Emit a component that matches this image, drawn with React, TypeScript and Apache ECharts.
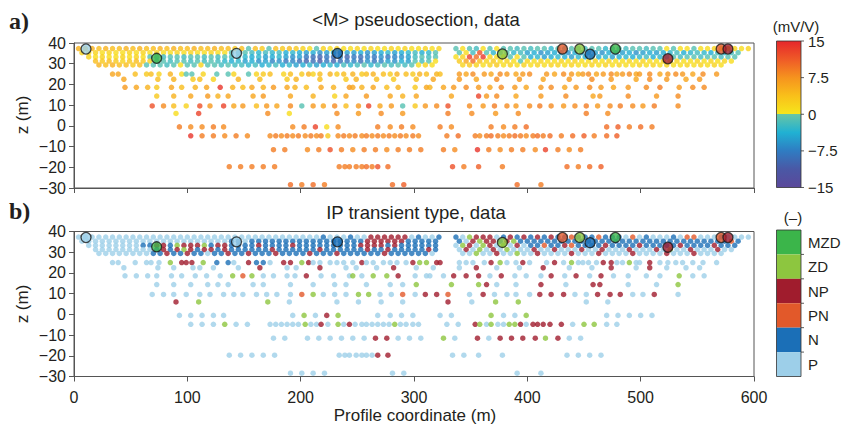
import React, { useEffect, useRef } from 'react';
import * as echarts from 'echarts';

// ---------- axis ticks ----------
const X_TICKS = [0, 100, 200, 300, 400, 500, 600];
const Z_TICKS = [-30, -20, -10, 0, 10, 20, 30, 40];

// ---------- legend categories (top to bottom) ----------
const TYPE_LABELS = ['MZD', 'ZD', 'NP', 'PN', 'N', 'P'];
const TYPE_CODES = ['M', 'Z', 'R', 'O', 'N', 'P'];
const TYPE_COLORS = ['#3bb54a', '#8dc63f', '#a01c2d', '#e2592a', '#1b6fb7', '#9dcfe9'];

// ---------- colour scale (mV/V) ----------
const CBAR_TICKS = [15, 7.5, 0, -7.5, -15];
const POS_STOPS = [0, 3.75, 7.5, 11.25, 15];
const POS_COLORS = ['#f6e61b', '#f9c01a', '#f6931e', '#ef5a27', '#e6262b'];
const NEG_STOPS = [-15, -11.25, -7.5, -3.75, 0];
const NEG_COLORS = ['#5b489b', '#4a58a5', '#2f7cc2', '#20b1d3', '#68c5a5'];

// ---------- pseudosection rows: depth, x positions, <M> values, transient type ----------
const zA = 37.3;
const xA = [4,10,16,22,28,34,40,46,52,58,64,70,76,82,88,94,100,106,112,118,124,130,136,142,148,154,160,166,172,178,184,190,196,202,208,214,220,226,232,238,244,250,256,262,268,274,280,286,292,298,304,310,316,322,
  337,343,349,355,361,367,373,379,385,391,397,403,409,415,421,427,433,439,445,451,457,463,469,475,481,487,493,499,505,511,517,523,529,535,541,547,553,559,565,571,577,583,589,595];
const mA = [5,4,5,4,5,4,4,5,4,5, 4,4,5,4,5,4,4,5,4,4, 5,4,4,3,4,-1,4,3,-1,4, 3,4,3,
  2,1,-1,2,1,2,1,1,2,1, 2,1,1,2,1,2,1,1,2,1, 2,
  -1,1,-1,-2,1,-1,1,-1,-1,-2,
  -1,-2,-1,-1,-3,-1,-2,-1,-1,-2, -1,-1,-3,-1,-1,-2,-1,-1,-2,-1,
  -1,1,-1,1,1,-1,1,
  1,2,1,2,2,1,2];
const tA = 'PPPPPPPPPP PPPPPPPPPP PPPPPPPPPP PPP  PPPNPPPNPP RRRRRRPNPP N  NPZRRRPNRN  RNRNRNNONN NONNNPOPNP  PPNPOOP  PPNPPPP';

const zB = 35.3;
const xB = [7,13,19,25,31,37,43,49,55,61,67,73,79,85,91,97,103,109,115,121,127,133,139,145,151,157,163,169,175,181,187,193,199,205,211,217,223,229,235,241,247,253,259,265,271,277,283,289,295,301,307,313,319,
  340,346,352,358,364,370,376,382,388,394,400,406,412,418,424,430,436,442,448,454,460,466,472,478,484,490,496,502,508,514,520,526,532,538,544,550,556,562,568,574,580,586];
const mB = [2,1,2,1,2,1,1,2,1,2, 1,2,1,1,2,1,2,1,1,2, 1,1,
  -1,-2,-1,-2,-3,-2,-3,-2,-4,-3, -4,
  -5,-4,-6,-5,-4,-6,-5,-5,-4,-6, -5,-4,-3,-5,-4,-3,-2,-4,-3,-1,
  -1,1,-2,12,-1,-3,-2,-1,-3,-2,
  -5,-4,-6,-5,-4,-5,-6,-4,-5,-3, -5,-6,-4,-5,-5,-4,-6,-5,-4,-5, -4,
  -3,-2,-4,-3,-2,-3,-4,-2,-3,-2, -1];
const tB = 'PPPPPPPPPP PPPPPPPPPP PP  NNPNNNNNNN N  NNNNNNNNNR RRRRRNNNNN  NPRZRRNRZN  NNNNNNNNNN NNNNNNNNNN N  NNNNNNNNNO N';

const zC = 33.3;
const xC = [13,19,25,31,37,43,49,55,61,67,73,79,85,91,97,103,109,115,121,127,133,139,145,151,157,163,169,175,181,187,193,199,205,211,217,223,229,235,241,247,253,259,265,271,277,283,289,295,301,307,313,319,
  337,343,349,355,361,367,373,379,385,391,397,403,409,415,421,427,433,439,445,451,457,463,469,475,481,487,493,499,505,511,517,523,529,535,541,547,553,559,565,571,577,583];
const mC = [2,1,2,1,1,2,1,2,1,-1,
  -1,-2,-1,-1,-2,-1,-1,-2,-1,-2, -1,-2,-2,
  -3,-4,-3,-5,-4,-3,-5,-6,-5,
  -8,-9,-10,-8,-9,-7,-10,-8,-9,-7, -8,-6,-8,-7,-6,-5,
  -2,-1,-2,-1,
  1,2,13,10,14,2,1,
  1,-1,1,-1,
  -4,-3,-5,-4,-3,-4,-5,-3,-4,-2, -4,-3,-5,-4,-3,-4,-3,-2,-4,-3,
  -2,-1,-2,-1,-1,-2,-1,-1,-2,-1, -1];
const tC = 'PPPPPPPPNN  RRNZRRRZNR RNN  NNRNNNNRN  NNNNNNNNRR RRNRNN  NNNN  PZRPZRP  ZPRP  NNONNRONNN NRNNNNRNNN  NNRNNNNRNN N';

const zD = 31.3;
const xD = [19,25,31,37,43,49,55,61,67,73,79,85,91,97,103,109,115,121,127,133,139,145,151,157,163,169,175,181,187,193,199,205,211,217,223,229,235,241,247,253,259,265,271,277,283,289,295,301,307,313,319,
  340,346,352,358,364,370,376,382,388,394,400,406,412,418,424,430,436,442,448,454,460,466,472,478,484,490,496,502,508,514,520,526,532,538,544,550,556,562,568,574,580];
const mD = [4,3,4,3,2,3,4,3,2,
  -1,-1,-2,-1,-1,-2,-1,-2,-1,-2, -3,
  -4,-3,-5,-4,-6,-5,-7,-6,-8,-7, -9,
  -10,-9,-11,-8,-10,-9,-8,-7,-9,-6, -8,-7,-5,-6,-4,-5,
  -1,-2,-1,1,
  3,6,10,4,2,3,1,2,1,-1,
  2,1,2,1,1,2,1,2,1,1, 2,1,2,1,1,2,1,2,1,1, 2,1,2,1,1,2,1,2,1,2, 1];
const tD = 'PPPPPPPPP  NRNRZRNRRN R  NNNNNNRNNN N  NNRNNNNNNR NNRNNN  NNRN  PRPZPRPZPP  PRPPRPPPRP PRPPPRPPPR PZPPRPPPRP P';

const zE = 29.4;
const xE = [22,28,34,40,46,52,58,64,70,76,82,88,94,100,106,112,118,124,130,136,142,148,154,160,166,172,178,184,190,196,202,208,214,220,226,232,238,244,250,256,262,268,274,280,286,292,298,304,310,316,
  343,349,355,361,367,373,379,385,391,397,403,409,415,421,427,433,439,445,451,457,463,469,475,481,487,493,499,505,511,517,523,529,535,541,547,553,559,565,571];
const mE = [5,4,5,4,4,3,4,-1,
  -1,-1,-2,-1,1,-1,-1,2,-1,-1, -2,-1,-2,
  -2,-3,-2,-4,-3,-2,-4,-3,-5,-4, -3,-5,-4,-3,-4,-2,-3,-2,-1,-3, -2,-1,-2,-1,-2,-1,
  1,2,1,
  2,3,2,1,2,3,1,2,1,
  2,1,2,1,2,2,1,2,1,1, 2,1,2,1,2,1,1,2,1,2, 1,2,1,1,2,1,2,1,2,1];
const tE = 'PPPPPPPP  NNRNNRNNPN NRN  NRNNNRNNNN RNNNRNNNNN NRNNNN  NNP  PPZPPRPPZ  PPRPPPPRPP PRPPPPRPPP PRPPPRPPPP';

const z25 = 25.0;
const x25 = [34,39,54,64,68,75,85,95,99,104,114,126,136,141,154,161,167,173,185,191,201,207,211,217,226,232,238,246,254,258,264,273,279,285,293,299,305,311,320,323,
  340,346,352,362,368,376,382,390,396,402,417,424,432,439,445,449,454,461,467,474,479,484,490,496,499,508,517,524,531,537,546,555,567];
const m25 = [6,6,4,3,4,2,5,1,-1,-1, 2,-1,-1,2,-1,2,3,4,2,4, 3,5,2,4,5,3,4,5,3,4, 5,4,3,5,4,3,5,4,5,4,
  7,6,8,7,6,8,7,6,7,8, 7,6,8,7,5,7,8,6,7,8, 6,7,8,6,7,8,6,7,8,7, 6,8,7];
const t25 = 'PPPPPPZRRR ZNNPRNNPRR ZRPPPPPPRP PPPPPRZZRR PPPPRZPPRP PRPZPPPPRR PPZPPRPPPP PPP';

const z22 = 22.5;
const x22 = [44,74,88,105,111,123,145,164,188,196,217,240,249,267,282,302,317,340,355,373,393,414,437,457,474,496,508,523,540,552];
const m22 = [6,4,5,3,4,2,5,4,3,5,4,3,5,4,3,4, 6,7,6,8,7,6,7,8,7,6,8,7,6,7];
const t22 = 'PPPPPPPRPPRPPPRP PPRPPRPPRPRPPP';

const z18 = 18.6;
const x18 = [45,55,65,73,86,95,107,117,129,140,149,157,167,176,188,195,205,218,229,243,246,254,264,276,286,301,311,314,326,335,346,357,367,377,389,399,412,421,433,443,455,465,476,489,505,517,534,546,556];
const m18 = [7,6,5,3,6,4,5,6,14,5, 4,6,5,7,6,5,4,6,5,7, 6,5,6,4,5,3,6,5,6,7, 8,7,6,8,7,6,7,8,6,7, 8,7,6,7,8,9,7,8,8];
const t18 = 'PPPPPPPPPZ OZPPPPRPPP ZPZZRPPPPR RRPRPPPRPR PRPPPPZPP';

const z14 = 14.4;
const x14 = [73,88,103,118,127,136,158,167,191,211,230,240,258,279,290,302,333,357,364,373,390,412,434,458,464,489,514,533];
const m14 = [3,5,6,7,5,6,6,7,6,5,2,6,7,6,5,6, 6,13,7,8,6,7,8,6,7,8,7,8];
const t14 = 'PPPPPPPPPPPPPPPZ ZZRPPRPRRPPZ';

const z10 = 9.6;
const x10 = [69,79,88,99,111,120,132,141,149,161,170,179,191,201,211,220,230,240,251,260,270,280,290,301,310,
  320,330,349,361,371,382,390,402,411,421,432,442,452,462,473,482,493,502,512,533];
const m10 = [12,8,4,2,12,7,13,6,7,4, 7,6,8,-1,7,6,8,4,7,13, 6,7,-1,3,7,
  8,12,8,7,9,8,7,8,9,8, 7,8,9,7,8,9,8,7,9,8];
const t10 = 'PPPPPPPPPPPPPOZPPPZZPPOPR ROPRPPPPRRRPPRRRPPRP';

const z6 = 6.0;
const x6 = [90,110,171,190,232,251,271,290,330,351,372,392,452,471];
const m6 = [1,13,8,1,8,7,8,7, 9,8,7,8,9,8];
const t6 = 'RZZPPPPP RPZZPP';

const z0 = -0.5;
const x0 = [93,103,113,123,132,193,203,213,223,233,268,279,289,299,323,333,368,379,389,399,470,480,490,500,510];
const m0 = [9,8,8,9,8, 8,9,13,1,8, 9,8,9,8, 9,8,9,8,9,10, 10,11,9,10,9];
const t0 = 'PPPPPPZPRZPPPP PPZPPZPPPPP';

const z5 = -4.8;
const x5 = [103,113,123,133,143,153,
  173,178,183,188,193,198,204,209,214,218,224,233,238,243,248,254,258,263,268,273,278,283,288,293,299,304,
  329,339,354,358,364,368,374,379,384,389,394,399,405,409,414,420,430,440,450,459,470,479];
const m5 = [14,9,9,8,9,8,
  8,9,8,9,8,9,8,9,8,9, 3,8,9,8,9,8,9,8,9,8, 9,8,9,8,9,8,
  9,10,9,8,9,10,9,8,9,10, 9,8,9,10,9,10,9,10,11,9, 10,11];
const t5 = 'PPPZPP PPPPPPZPPRPZPRPPPPPPPZPPPP PPRZPZPPZZRPRRRRRPZZPP';

const z11 = -11.5;
const x11 = [176,186,206,216,226,236,246,256,266,276,286,296,306,326,336,356,366,376,386,396,407,416,427,437,447];
const m11 = [9,9,8,9,12,9,8,9,9,8,9,9,9, 9,8,14,9,8,9,9,8,13,9,8,9];
const t11 = 'PPPPPPPPRRPPP ZPRPRRRRZRPP';

const z20 = -19.7;
const x20 = [137,147,157,167,177,234,239,243,249,254,258,263,268,277,334,344,357,378,435,445,455,465];
const m20 = [9,9,9,9,9, 9,9,9,9,9,10,9,12,10, 12,9,11,9,10,9,10,11];
const t20 = 'PPPPP PPPPPPPRR PPPPPPPP';

const z28 = -28.4;
const x28 = [191,201,211,221,281,291,391,412];
const m28 = [10,9,10,9,10,11,10,9];
const t28 = 'PPPPPPPP';

// ---------- highlighted soundings (large outlined circles) ----------
const hX = [10.6, 72.9, 143.4, 232.5, 378, 431, 446.2, 455.3, 477.7, 524, 571, 577];
const hZ = [37.1, 32.6, 35.0, 35.0, 34.7, 37.1, 37.1, 34.6, 37.1, 32.4, 37.1, 37.1];
const hT = 'PMPNZOZNMROR';

const FONT = '"Liberation Sans", Arial, Helvetica, sans-serif';
const TXT = '#231f20';

function hexToRgb(h: string) {
  const n = parseInt(h.slice(1), 16);
  return [(n >> 16) & 255, (n >> 8) & 255, n & 255];
}
function mix(a: string, b: string, t: number) {
  const A = hexToRgb(a), B = hexToRgb(b);
  const c = A.map((v, i) => Math.round(v + (B[i] - v) * t));
  return `rgb(${c[0]},${c[1]},${c[2]})`;
}
function ramp(v: number, stops: number[], colors: string[]) {
  if (v <= stops[0]) return colors[0];
  for (let i = 1; i < stops.length; i++) {
    if (v <= stops[i]) {
      const t = (v - stops[i - 1]) / (stops[i] - stops[i - 1]);
      return mix(colors[i - 1], colors[i], t);
    }
  }
  return colors[colors.length - 1];
}
function mColor(v: number) {
  return v >= 0 ? ramp(v, POS_STOPS, POS_COLORS) : ramp(v, NEG_STOPS, NEG_COLORS);
}
function typeColor(code: string) {
  const i = TYPE_CODES.indexOf(code);
  return TYPE_COLORS[i < 0 ? 5 : i];
}
const clean = (s: string) => s.replace(/\s+/g, '');

const ROWS = [
  { z: zA, x: xA, m: mA, t: tA }, { z: zB, x: xB, m: mB, t: tB }, { z: zC, x: xC, m: mC, t: tC },
  { z: zD, x: xD, m: mD, t: tD }, { z: zE, x: xE, m: mE, t: tE }, { z: z25, x: x25, m: m25, t: t25 },
  { z: z22, x: x22, m: m22, t: t22 }, { z: z18, x: x18, m: m18, t: t18 }, { z: z14, x: x14, m: m14, t: t14 },
  { z: z10, x: x10, m: m10, t: t10 }, { z: z6, x: x6, m: m6, t: t6 }, { z: z0, x: x0, m: m0, t: t0 },
  { z: z5, x: x5, m: m5, t: t5 }, { z: z11, x: x11, m: m11, t: t11 }, { z: z20, x: x20, m: m20, t: t20 },
  { z: z28, x: x28, m: m28, t: t28 },
];

export default function App() {
  const ref = useRef<HTMLDivElement>(null);
  useEffect(() => {
    if (!ref.current) return;
    const chart = echarts.init(ref.current, undefined, { renderer: 'svg' });

    const dataM: any[] = [];
    const dataT: any[] = [];
    ROWS.forEach((r) => {
      const tt = clean(r.t);
      r.x.forEach((x, i) => {
        const m = r.m[i] ?? 0;
        const t = tt[i] ?? 'P';
        dataM.push({ value: [x, r.z, m], itemStyle: { color: mColor(m) } });
        dataT.push({ value: [x, r.z], itemStyle: { color: typeColor(t) } });
      });
    });
    const hiData = hX.map((x, i) => ({ value: [x, hZ[i]], itemStyle: { color: typeColor(hT[i]) } }));

    const grids = [
      { left: 74, top: 43, width: 680, height: 145 },
      { left: 74, top: 231.5, width: 680, height: 145 },
    ];
    const axisLine = { show: true, onZero: false, lineStyle: { color: '#555', width: 1 } };
    const axisTick = { show: true, inside: false, length: 5, lineStyle: { color: '#555', width: 1 } };
    const xAxis = [0, 1].map((g) => ({
      type: 'value', gridIndex: g, min: X_TICKS[0], max: X_TICKS[X_TICKS.length - 1], interval: 100,
      axisLine, axisTick, splitLine: { show: false },
      axisLabel: { show: g === 1, fontSize: 16, color: TXT, fontFamily: FONT, margin: 13 },
    }));
    const yAxis = [0, 1].map((g) => ({
      type: 'value', gridIndex: g, min: Z_TICKS[0], max: Z_TICKS[Z_TICKS.length - 1], interval: 10,
      axisLine, axisTick, splitLine: { show: false },
      axisLabel: {
        fontSize: 16, color: TXT, fontFamily: FONT, margin: 8,
        formatter: (v: number) => String(v).replace('-', '\u2212'),
      },
    }));

    const pointSize = 5.5;
    const series: any[] = [
      { type: 'scatter', xAxisIndex: 0, yAxisIndex: 0, symbolSize: pointSize, data: dataM, z: 2 },
      { type: 'scatter', xAxisIndex: 0, yAxisIndex: 0, symbolSize: 10, data: hiData, z: 3,
        itemStyle: { borderColor: '#1a1a1a', borderWidth: 1.3 } },
      { type: 'scatter', xAxisIndex: 1, yAxisIndex: 1, symbolSize: pointSize, data: dataT, z: 2 },
      { type: 'scatter', xAxisIndex: 1, yAxisIndex: 1, symbolSize: 10, data: hiData, z: 3,
        itemStyle: { borderColor: '#1a1a1a', borderWidth: 1.3 } },
    ];

    // colour bar
    const cbX = 776.5, cbW = 24.5;
    const cbTop = 41, cbH = 146.5;
    const catTop = 230, catH = 146.5;
    const grad = new echarts.graphic.LinearGradient(0, 0, 0, 1, [
      { offset: 0, color: POS_COLORS[4] }, { offset: 0.125, color: POS_COLORS[3] },
      { offset: 0.25, color: POS_COLORS[2] }, { offset: 0.375, color: POS_COLORS[1] },
      { offset: 0.5, color: POS_COLORS[0] }, { offset: 0.5, color: NEG_COLORS[4] },
      { offset: 0.625, color: NEG_COLORS[3] }, { offset: 0.75, color: NEG_COLORS[2] },
      { offset: 0.875, color: NEG_COLORS[1] }, { offset: 1, color: NEG_COLORS[0] },
    ]);
    const graphic: any[] = [
      { type: 'text', x: 9, y: 21, style: { text: 'a)', font: 'bold 24px "Liberation Serif", "Times New Roman", serif', fill: TXT, textVerticalAlign: 'middle' } },
      { type: 'text', x: 9, y: 211, style: { text: 'b)', font: 'bold 24px "Liberation Serif", "Times New Roman", serif', fill: TXT, textVerticalAlign: 'middle' } },
      { type: 'text', x: 416, y: 19, style: { text: '<M> pseudosection, data', font: `18.5px ${FONT}`, fill: TXT, textAlign: 'center', textVerticalAlign: 'middle' } },
      { type: 'text', x: 416, y: 212, style: { text: 'IP transient type, data', font: `18.5px ${FONT}`, fill: TXT, textAlign: 'center', textVerticalAlign: 'middle' } },
      { type: 'text', x: 22, y: 115, rotation: Math.PI / 2, style: { text: 'z (m)', font: `17px ${FONT}`, fill: TXT, textAlign: 'center', textVerticalAlign: 'middle' } },
      { type: 'text', x: 22, y: 304, rotation: Math.PI / 2, style: { text: 'z (m)', font: `17px ${FONT}`, fill: TXT, textAlign: 'center', textVerticalAlign: 'middle' } },
      { type: 'text', x: 415, y: 415, style: { text: 'Profile coordinate (m)', font: `17px ${FONT}`, fill: TXT, textAlign: 'center', textVerticalAlign: 'middle' } },
      { type: 'text', x: 796, y: 26, style: { text: '(mV/V)', font: `15px ${FONT}`, fill: TXT, textAlign: 'center', textVerticalAlign: 'middle' } },
      { type: 'text', x: 793, y: 217, style: { text: '(\u2013)', font: `15px ${FONT}`, fill: TXT, textAlign: 'center', textVerticalAlign: 'middle' } },
      { type: 'rect', shape: { x: cbX, y: cbTop, width: cbW, height: cbH }, style: { fill: grad, stroke: '#333', lineWidth: 0.8 } },
    ];
    CBAR_TICKS.forEach((v) => {
      const y = cbTop + ((15 - v) / 30) * cbH;
      graphic.push({ type: 'line', shape: { x1: cbX + cbW, y1: y, x2: cbX + cbW + 3, y2: y }, style: { stroke: '#333', lineWidth: 0.8 } });
      graphic.push({ type: 'text', x: 808, y, style: { text: String(v).replace('-', '\u2212'), font: `15px ${FONT}`, fill: TXT, textVerticalAlign: 'middle' } });
    });
    const blk = catH / TYPE_LABELS.length;
    TYPE_LABELS.forEach((lab, i) => {
      const y0 = catTop + i * blk;
      graphic.push({ type: 'rect', shape: { x: cbX, y: y0, width: cbW, height: blk }, style: { fill: TYPE_COLORS[i] } });
      graphic.push({ type: 'text', x: 808, y: y0 + blk / 2, style: { text: lab, font: `15px ${FONT}`, fill: TXT, textVerticalAlign: 'middle' } });
      if (i > 0) graphic.push({ type: 'line', shape: { x1: cbX + cbW, y1: y0, x2: cbX + cbW + 3, y2: y0 }, style: { stroke: '#333', lineWidth: 0.8 } });
    });
    graphic.push({ type: 'rect', shape: { x: cbX, y: catTop, width: cbW, height: catH }, style: { fill: 'none', stroke: '#333', lineWidth: 0.8 } });

    chart.setOption({
      animation: false,
      backgroundColor: '#ffffff',
      grid: grids.map((g) => ({ ...g, show: true, borderColor: '#555', borderWidth: 1, backgroundColor: 'transparent' })),
      xAxis,
      yAxis,
      series,
      graphic,
    });
    return () => chart.dispose();
  }, []);
  return <div ref={ref} style={{ position: 'fixed', left: 0, top: 0, width: 846, height: 425 }} />;
}
